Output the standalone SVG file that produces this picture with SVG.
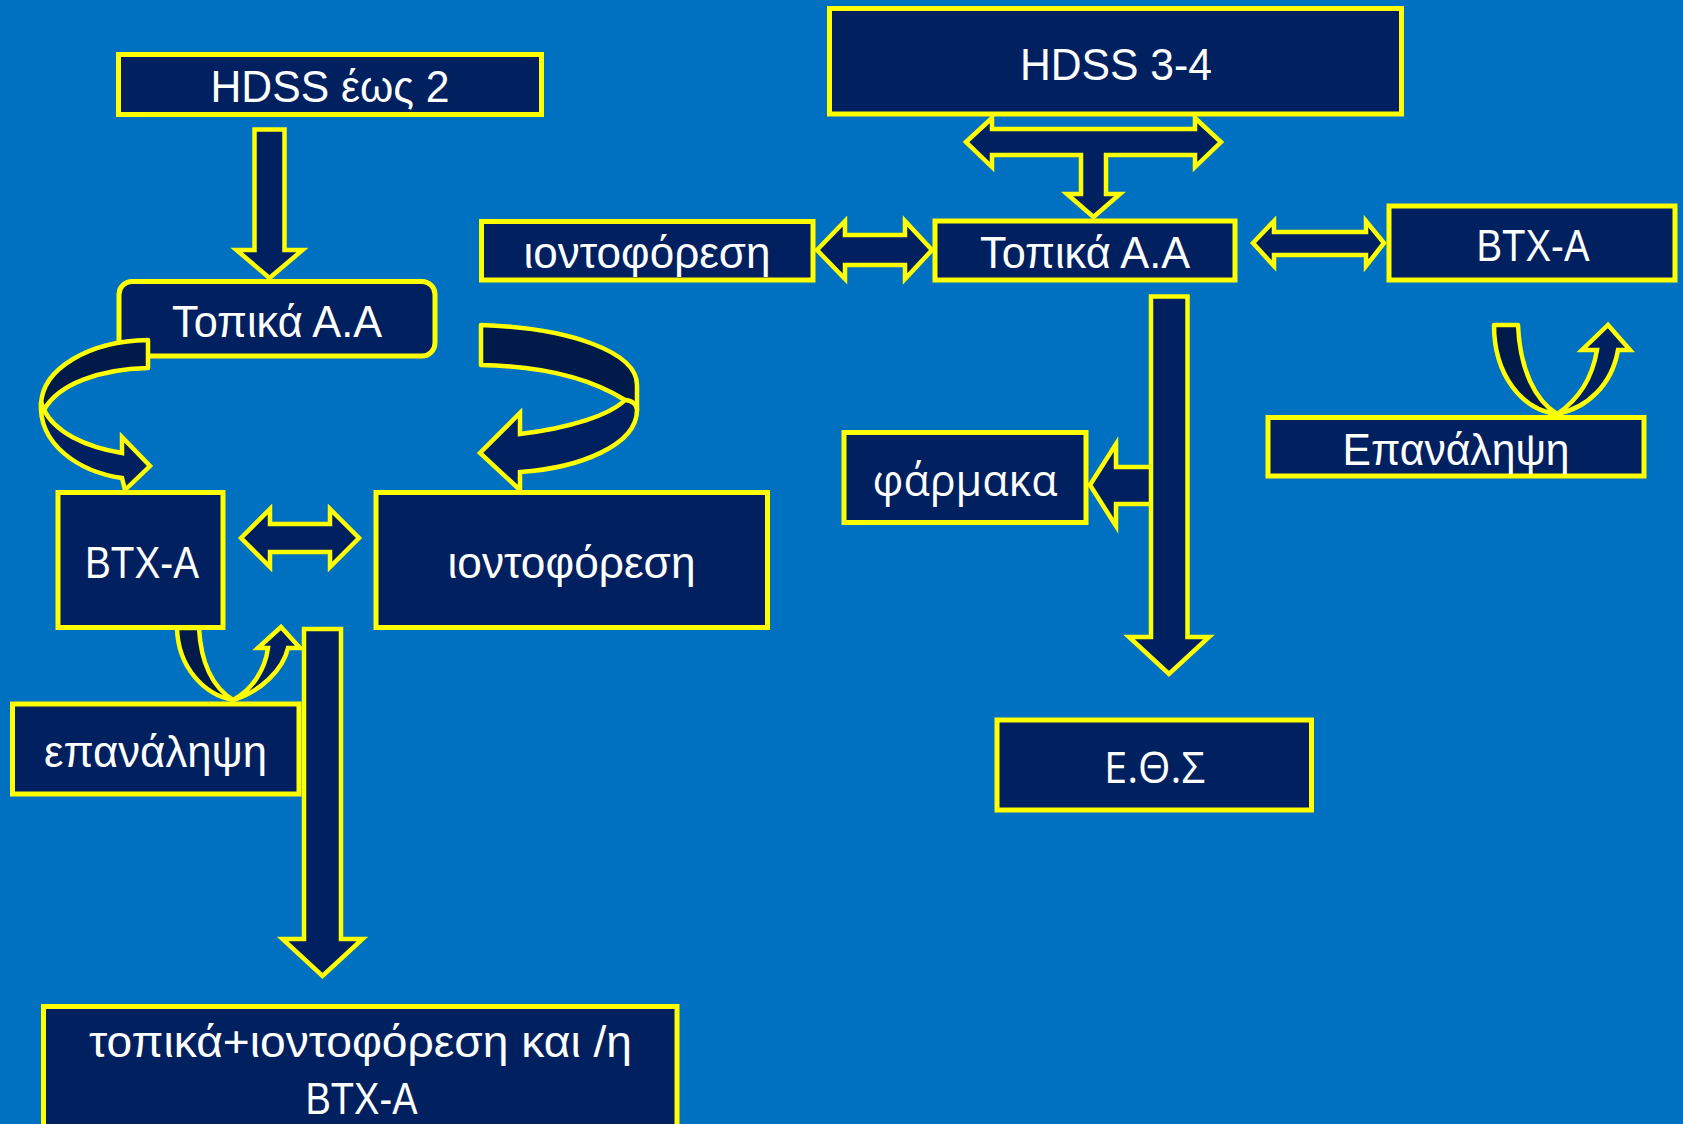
<svg xmlns="http://www.w3.org/2000/svg" width="1683" height="1124" viewBox="0 0 1683 1124">
<style>
.box{fill:#002060;stroke:#FFFF00;stroke-width:5}
.arr{fill:#002060;stroke:#FFFF00;stroke-width:4.5;stroke-linejoin:miter}
.back{fill:#001A4A;stroke:#FFFF00;stroke-width:4.5;stroke-linejoin:round}
.t{font-family:"Liberation Sans",Arial,sans-serif;font-size:44px;fill:#FFFFFF;text-anchor:middle}
.o{font-family:"Open Sans","Liberation Sans",sans-serif;font-size:43px;fill:#FFFFFF;text-anchor:middle}
</style>
<rect x="0" y="0" width="1683" height="1124" fill="#0070C0"/>
<g id="nodes">
<g id="n-hdss2"><rect class="box" x="118.5" y="54.5" width="423" height="60"/><text class="t" x="330" y="101.5" textLength="239" lengthAdjust="spacingAndGlyphs">HDSS έως 2</text></g>
<g id="n-topika1"><rect class="box" x="119" y="281.5" width="316" height="74.5" rx="13"/><text class="t" x="277" y="336.5" textLength="210" lengthAdjust="spacingAndGlyphs">Τοπικά Α.Α</text></g>
<g id="n-btxa1"><rect class="box" x="58" y="492.5" width="165" height="135"/><text class="t" x="142" y="578" textLength="114" lengthAdjust="spacingAndGlyphs">BTX-A</text></g>
<g id="n-ionto1"><rect class="box" x="376" y="492.5" width="391.5" height="135"/><text class="t" x="571.5" y="578" textLength="248" lengthAdjust="spacingAndGlyphs">ιοντοφόρεση</text></g>
<g id="n-epan1"><rect class="box" x="12.5" y="704" width="286.5" height="90"/><text class="t" x="155.5" y="766.5" textLength="223" lengthAdjust="spacingAndGlyphs">επανάληψη</text></g>
<g id="n-combo"><rect class="box" x="43.5" y="1006.5" width="633.5" height="140"/><text class="t" x="360.5" y="1056.5" textLength="543" lengthAdjust="spacingAndGlyphs">τοπικά+ιοντοφόρεση και /η</text><text class="t" x="361.5" y="1114" textLength="112" lengthAdjust="spacingAndGlyphs">BTX-A</text></g>
<g id="n-hdss34"><rect class="box" x="829.5" y="8.5" width="572" height="105.5"/><text class="t" x="1116" y="80" textLength="192" lengthAdjust="spacingAndGlyphs">HDSS 3-4</text></g>
<g id="n-ionto2"><rect class="box" x="481.5" y="221.5" width="331.5" height="58.5"/><text class="t" x="647" y="268" textLength="247" lengthAdjust="spacingAndGlyphs">ιοντοφόρεση</text></g>
<g id="n-topika2"><rect class="box" x="935" y="221" width="300" height="59"/><text class="t" x="1085" y="268" textLength="210" lengthAdjust="spacingAndGlyphs">Τοπικά Α.Α</text></g>
<g id="n-btxa2"><rect class="box" x="1389" y="206" width="286" height="74"/><text class="t" x="1533" y="260.5" textLength="113" lengthAdjust="spacingAndGlyphs">BTX-A</text></g>
<g id="n-farmaka"><rect class="box" x="844" y="432.5" width="242" height="90"/><text class="o" x="965" y="496" textLength="185" lengthAdjust="spacingAndGlyphs">φάρμακα</text></g>
<g id="n-epan2"><rect class="box" x="1268" y="417.5" width="376" height="58.5"/><text class="t" x="1456" y="465" textLength="227" lengthAdjust="spacingAndGlyphs">Επανάληψη</text></g>
<g id="n-eos"><rect class="box" x="997" y="720" width="314.5" height="90"/><text class="o" x="1154.5" y="782.5" textLength="101" lengthAdjust="spacingAndGlyphs">Ε.Θ.Σ</text></g>
</g>
<g id="connectors">
<path class="arr" d="M254.5,129.5 H284.5 V250 H302.5 L269.5,278 L236.5,250 H254.5 Z"/>
<path class="back" d="M148,340 L148,368 C100,369 58,384 44,410 L41,405 C42,368 90,341 148,340 Z"/>
<path class="arr" d="M41,402 C38,445 80,472 122,478 L125,490 L150,466 L122,437 L122,453 C85,447 55,432 44,410 Z"/>
<path class="back" d="M481,325 C570,328 637,352 637,385 L637,410 C636,405 630,401 625,400 C590,378 540,366 481,365 Z"/>
<path class="arr" d="M625,400 C610,415 570,428 520,434 L520,413 L480,453 L520,490 L520,472 C580,468 637,445 637,410 C637,405 632,400 625,400 Z"/>
<path class="arr" d="M241,538 L270,509 V524 H330 V509 L359,538 L330,567 V552 H270 V567 Z"/>
<path class="back" d="M177,628 L199,628 C201,665 214,688 233,700 C205,695 178,668 177,628 Z"/>
<path class="arr" d="M233,700 C260,692 283,670 288,648 L300,648 L281,627 L258,648 L268,648 C265,670 252,690 233,700 Z"/>
<path class="arr" d="M304,629 H341 V939 H362.5 L322.5,976 L282.5,939 H304 Z"/>
<path class="arr" d="M817,250 L845,221 V235 H905 V221 L932,250 L905,279 V265 H845 V279 Z"/>
<path class="arr" d="M966,142 L992,118 V129 H1195 V118 L1221,142 L1195,167 V155 H1106 V194 H1120 L1093.5,217 L1067,194 H1081 V155 H992 V167 Z"/>
<path class="arr" d="M1253,243 L1274,221 V232 H1366 V221 L1384,243 L1366,266 V255 H1274 V266 Z"/>
<path class="arr" d="M1090,485 L1116,444 V467 H1152 V504 H1116 V526 Z"/>
<path class="arr" d="M1151,296.5 H1187.5 V637 H1209 L1169,674 L1129,637 H1151 Z"/>
<path class="back" d="M1494,325 L1518,325 C1520,370 1535,400 1557,414 C1522,410 1494,375 1494,325 Z"/>
<path class="arr" d="M1557,414 C1587,408 1612,385 1618,350 L1630,350 L1608,325 L1582,350 L1597,350 C1592,380 1578,400 1557,414 Z"/>
</g>
</svg>
